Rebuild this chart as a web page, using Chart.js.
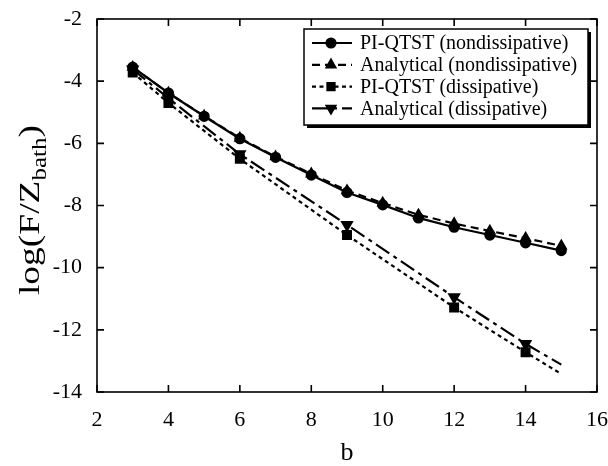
<!DOCTYPE html>
<html><head><meta charset="utf-8">
<script src="https://cdn.jsdelivr.net/npm/chart.js@4"></script>
<style>html,body{margin:0;padding:0;background:#fff}#wrap{width:608px;height:466px;position:relative}</style>
</head><body><div id="wrap"><canvas id="c" width="608" height="466"></canvas></div>
<script>
// ---- data ----
const bNondiss = [3,4,5,6,7,8,9,10,11,12,13,14,15];
const piNondiss = [-3.55,-4.38,-5.13,-5.85,-6.45,-7.02,-7.58,-7.98,-8.40,-8.70,-8.95,-9.20,-9.45];
const anNondiss = [-3.55,-4.38,-5.12,-5.83,-6.43,-6.98,-7.52,-7.92,-8.30,-8.58,-8.82,-9.05,-9.30];
const bDiss = [3,4,6,9,12,14,15];
const piDiss = [-3.72,-4.70,-6.50,-8.95,-11.28,-12.72,-13.42];
const anDiss = [-3.62,-4.55,-6.35,-8.62,-10.95,-12.45,-13.12];
const seriesNames = ["PI-QTST (nondissipative)","Analytical (nondissipative)","PI-QTST (dissipative)","Analytical (dissipative)"];
const xTicks = [2,4,6,8,10,12,14,16];
const yTicks = [-2,-4,-6,-8,-10,-12,-14];
const xTitle = "b";
const yTitleMain = "log(F/Z", yTitleSub = "bath", yTitleEnd = ")";

const pts = (xs, ys) => xs.map((x,i)=>({x, y: ys[i]}));
const SERIF = "'Liberation Serif','DejaVu Serif',serif";
const lastHidden = r => ctx => ctx.dataIndex === ctx.dataset.data.length-1 ? 0 : r;

const datasets = [
  {label: seriesNames[0], data: pts(bNondiss, piNondiss), borderColor:'#000', backgroundColor:'#000',
   borderWidth:2.2, borderDash:[], pointStyle:'circle', pointRadius:4.5, rotation:0, order:1},
  {label: seriesNames[1], data: pts(bNondiss, anNondiss), borderColor:'#000', backgroundColor:'#000',
   borderWidth:2.2, borderDash:[8,5], pointStyle:'triangle', pointRadius:5, rotation:0, order:2},
  {label: seriesNames[2], data: pts(bDiss, piDiss), borderColor:'#000', backgroundColor:'#000',
   borderWidth:2.2, borderDash:[4,3.5], pointStyle:'rect', pointRadius:lastHidden(5.5), rotation:0, order:3},
  {label: seriesNames[3], data: pts(bDiss, anDiss), borderColor:'#000', backgroundColor:'#000',
   borderWidth:2.2, borderDash:[16,5,4,5], pointStyle:'triangle', pointRadius:lastHidden(5.5), rotation:180, order:4}
];

const framePlugin = {
  id:'frame',
  afterDraw(chart){
    const {ctx, chartArea:a, scales:{x,y}} = chart;
    ctx.save();
    ctx.strokeStyle='#000'; ctx.lineWidth=1.6;
    ctx.strokeRect(a.left, a.top, a.right-a.left, a.bottom-a.top);
    const L=7;
    ctx.beginPath();
    xTicks.forEach(v=>{const px=x.getPixelForValue(v);
      ctx.moveTo(px,a.bottom); ctx.lineTo(px,a.bottom-L);
      ctx.moveTo(px,a.top); ctx.lineTo(px,a.top+L);});
    yTicks.forEach(v=>{const py=y.getPixelForValue(v);
      ctx.moveTo(a.left,py); ctx.lineTo(a.left+L,py);
      ctx.moveTo(a.right,py); ctx.lineTo(a.right-L,py);});
    ctx.stroke();
    // y title with subscript (glyphs slightly stretched along the reading direction)
    ctx.fillStyle='#000';
    ctx.translate(31, 210); ctx.rotate(-Math.PI/2); ctx.scale(1.25, 1);
    ctx.textBaseline='middle';
    const MF = "30px "+SERIF, SF = "20px "+SERIF;
    ctx.font = MF; const w1 = ctx.measureText(yTitleMain).width;
    ctx.font = SF; const w2 = ctx.measureText(yTitleSub).width;
    ctx.font = MF; const w3 = ctx.measureText(yTitleEnd).width;
    let sx = -(w1+w2+w3)/2;
    ctx.textAlign='left';
    ctx.fillText(yTitleMain, sx, 0); sx+=w1;
    ctx.font = SF; ctx.fillText(yTitleSub, sx, 10); sx+=w2;
    ctx.font = MF; ctx.fillText(yTitleEnd, sx, 0);
    ctx.restore();
    // legend
    ctx.save();
    const bx=304, by=29, bw=284, bh=96;
    ctx.fillStyle='#000'; ctx.fillRect(bx+3, by+3, bw, bh);
    ctx.fillStyle='#fff'; ctx.fillRect(bx, by, bw, bh);
    ctx.strokeStyle='#000'; ctx.lineWidth=1.5; ctx.strokeRect(bx, by, bw, bh);
    chart.data.datasets.forEach((ds,i)=>{
      const cy = by + 14 + i*21.8;
      ctx.strokeStyle='#000'; ctx.lineWidth=2.2; ctx.setLineDash(ds.borderDash);
      ctx.beginPath(); ctx.moveTo(312, cy); ctx.lineTo(352, cy); ctx.stroke();
      ctx.setLineDash([]);
      Chart.helpers.drawPoint(ctx, {pointStyle: ds.pointStyle, radius: i===0?4.5:5, rotation: ds.rotation, borderWidth:1}, 331, cy);
      ctx.fillStyle='#000';
      ctx.fill();
      ctx.font = "20px "+SERIF; ctx.textBaseline='middle'; ctx.textAlign='left';
      ctx.fillText(ds.label, 360, cy+1);
    });
    ctx.restore();
  }
};

new Chart(document.getElementById('c'), {
  type:'scatter',
  data:{datasets},
  options:{
    responsive:false, animation:false, showLine:true,
    layout:{padding:{top:19, right:11, left:0, bottom:0}},
    elements:{line:{tension:0, fill:false}},
    plugins:{legend:{display:false}, tooltip:{enabled:false}},
    scales:{
      x:{type:'linear', min:2, max:16,
         afterFit(s){ s.height = 74; s.paddingLeft = 0; s.paddingRight = 0; },
         afterBuildTicks(s){ s.ticks = xTicks.map(v=>({value:v})); },
         grid:{display:false, drawTicks:false},
         border:{display:false},
         ticks:{color:'#000', padding:15, font:{family:SERIF, size:22}, maxRotation:0, autoSkip:false},
         title:{display:true, text:xTitle, color:'#000', font:{family:SERIF, size:26, lineHeight:1}, padding:{top:0,bottom:0}}},
      y:{type:'linear', min:-14, max:-2,
         afterFit(s){ s.width = 97; s.paddingTop = 0; s.paddingBottom = 0; },
         afterBuildTicks(s){ s.ticks = yTicks.map(v=>({value:v})); },
         grid:{display:false, drawTicks:false},
         border:{display:false},
         ticks:{color:'#000', padding:15, font:{family:SERIF, size:22}, autoSkip:false}}
    }
  },
  plugins:[framePlugin]
});
</script></body></html>
